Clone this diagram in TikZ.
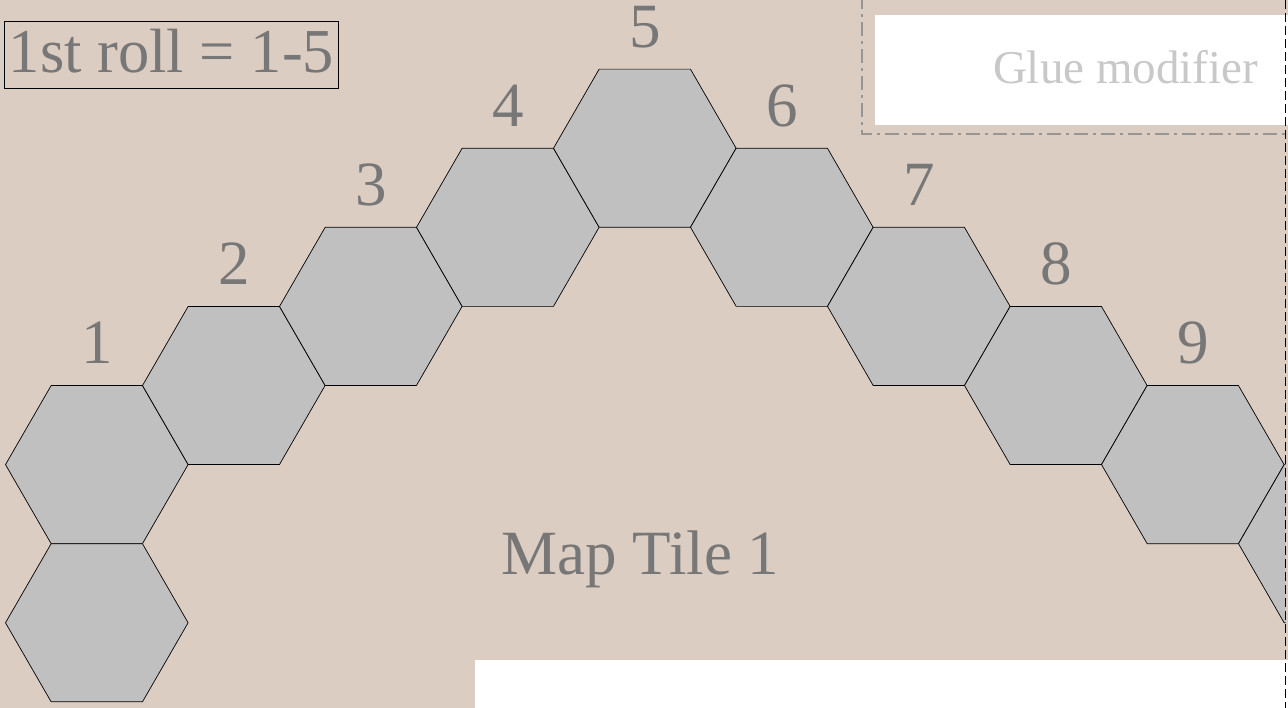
\documentclass[tikz,border=0pt]{standalone}
\usepackage{fontspec}
\setmainfont{Liberation Serif}
\usetikzlibrary{shapes.geometric, positioning}
\definecolor{tilebg}{RGB}{220,205,194}
\definecolor{hexgray}{RGB}{192,192,192}
\definecolor{labelgray}{RGB}{119,119,119}
\definecolor{gluegray}{RGB}{200,200,200}
\definecolor{framegray}{RGB}{150,150,150}

\tikzset{
  hexcell/.style={regular polygon, regular polygon sides=6, minimum size=182.6pt,
    inner sep=0pt, outer sep=0pt, draw=black, line width=0.7pt, fill=hexgray},
  hexnum/.style={text=labelgray, font=\fontsize{63}{63}\selectfont, anchor=base, inner sep=0pt},
}

\begin{document}
\begin{tikzpicture}[x=1pt, y=-1pt]
  \useasboundingbox (0,0) rectangle (1288,708);
  \fill[tilebg] (0,0) rectangle (1287.5,708);
  \fill[white] (475,660) rectangle (1288,708);

  % glue strip
  \draw[framegray, line width=1.6pt, dash pattern=on 14pt off 5pt on 3pt off 5pt]
    (862,-5) -- (862,134) -- (1295,134);
  \node[fill=white, anchor=north west, minimum width=413pt, minimum height=110pt, inner sep=0pt] (gluebox) at (875,15) {};
  \node[text=gluegray, font=\fontsize{47}{47}\selectfont, anchor=base, inner sep=0pt] (gluetext) at (1125.5,84) {Glue modifier};

  % hex path
  \foreach \i in {1,...,9} {
    \pgfmathsetmacro\cx{644.8+(\i-5)*137}
    \pgfmathsetmacro\cy{148.2+abs(\i-5)*79.1}
    \node[hexcell] (hex\i) at (\cx,\cy) {};
    \node[hexnum] (num\i) at (\cx,\cy-101) {\i};
  }
  \node[hexcell, below=0pt of hex1] (hex0) {};
  \begin{scope}
    \clip (0,0) rectangle (1285.5,708);
    \node[hexcell] (hex10) at (1329.8,543.7) {};
  \end{scope}

  % tile edge
  \draw[black, line width=1.2pt, dash pattern=on 9pt off 4pt] (1285.5,0) -- (1285.5,708);

  \node[draw=black, line width=1.2pt, minimum width=333.6pt, minimum height=67pt, inner sep=0pt,
    text=labelgray, font=\fontsize{62.5}{62.5}\selectfont, text height=44pt, text depth=9pt] (roll) at (171.5,54.7) {1st roll = 1-5};
  \node[text=labelgray, font=\fontsize{63}{63}\selectfont, anchor=base, inner sep=0pt] (title) at (640.5,574) {Map Tile 1};
\end{tikzpicture}
\end{document}
